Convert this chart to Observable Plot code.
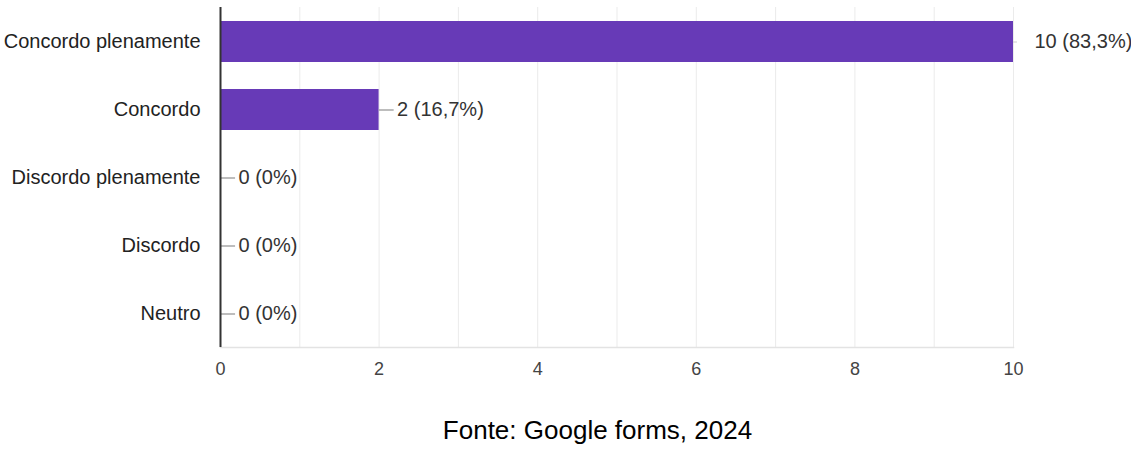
<!DOCTYPE html>
<html>
<head>
<meta charset="utf-8">
<script src="https://cdn.jsdelivr.net/npm/d3@7"></script>
<script src="https://cdn.jsdelivr.net/npm/@observablehq/plot@0.6"></script>
<style>
  body { margin: 0; background: #fff; }
  #caption { width: 1131px; box-sizing: border-box; padding-left: 64px; text-align: center;
    font-family: "Liberation Sans", Arial, sans-serif; font-size: 26px; line-height: 30px; color: #000; margin-top: 15px; }
</style>
</head>
<body>
<div id="chart"></div>
<div id="caption">Fonte: Google forms, 2024</div>
<script>
const categories = ["Concordo plenamente", "Concordo", "Discordo plenamente", "Discordo", "Neutro"];
const counts = [10, 2, 0, 0, 0];
const labels = ["10 (83,3%)", "2 (16,7%)", "0 (0%)", "0 (0%)", "0 (0%)"];
const xTicks = [0, 2, 4, 6, 8, 10];
const gridTicks = [1, 2, 3, 4, 5, 6, 7, 8, 9, 10];

const data = categories.map((c, i) => ({category: c, value: counts[i], label: labels[i]}));
const maxV = d3.max(counts);

const chart = Plot.plot({
  width: 1131,
  height: 400,
  marginLeft: 220,
  marginRight: 118,
  marginTop: 7,
  marginBottom: 53,
  style: {fontFamily: "'Liberation Sans', Arial, sans-serif", fontSize: "18px", background: "#fff"},
  x: {domain: [0, 10]},
  y: {domain: categories, paddingInner: 0.4, paddingOuter: 0.2},
  marks: [
    Plot.gridX(gridTicks, {stroke: "#ebebeb", strokeOpacity: 1, strokeWidth: 1}),
    Plot.frame({anchor: "bottom", stroke: "#e3e3e3", strokeWidth: 1.5}),
    Plot.axisX(xTicks, {tickSize: 0, tickPadding: 15, fontSize: 18, fill: "#444", label: null}),
    Plot.axisY({tickSize: 0, tickPadding: 20, fontSize: 20, fill: "#222", label: null}),
    Plot.barX(data, {x: "value", y: "category", fill: "#673ab7"}),
    Plot.ruleY(data.filter(d => d.value < maxV), {y: "category", x1: "value", x2: d => d.value + 0.19, stroke: "#999", strokeWidth: 1.3}),
    Plot.ruleY(data.filter(d => d.value === maxV), {y: "category", x1: "value", x2: d => d.value + 0.05, stroke: "#ccc", strokeWidth: 1}),
    Plot.ruleX([0], {stroke: "#333", strokeWidth: 2}),
    Plot.text(data.filter(d => d.value < maxV), {x: "value", y: "category", text: "label", dx: 18, textAnchor: "start", fontSize: 20, fill: "#333"}),
    Plot.text(data.filter(d => d.value === maxV), {x: "value", y: "category", text: "label", dx: 21, textAnchor: "start", fontSize: 20, fill: "#333"})
  ]
});
document.getElementById("chart").appendChild(chart);
</script>
</body>
</html>
